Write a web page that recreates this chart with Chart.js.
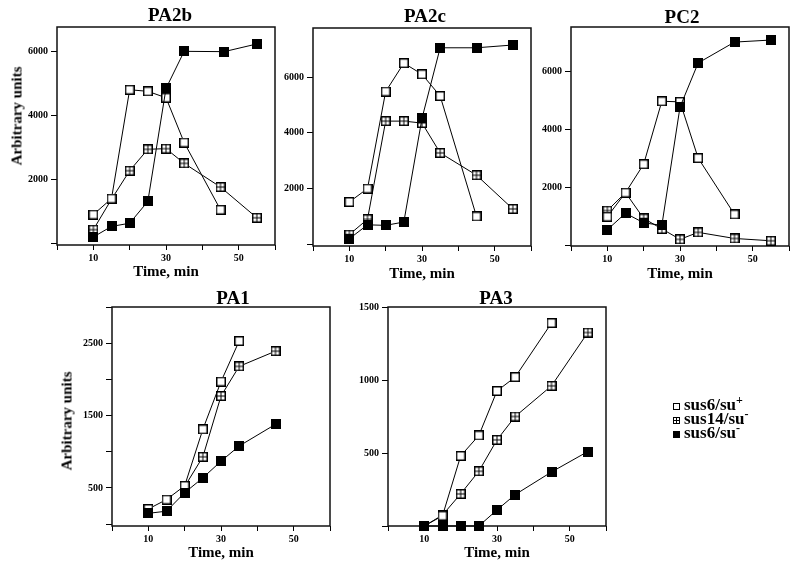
<!DOCTYPE html>
<html><head><meta charset="utf-8">
<script src="https://cdn.jsdelivr.net/npm/chart.js@4"></script>
<style>
body{margin:0;background:#fff;width:800px;height:564px;overflow:hidden;position:relative;font-family:"Liberation Serif","Times New Roman",serif;font-weight:bold;color:#000;}
canvas{position:absolute;left:0;top:0;}
.ttl{position:absolute;font-size:19px;line-height:19px;white-space:nowrap;transform:translateX(-50%);}
.ytl{position:absolute;font-size:15px;line-height:15px;white-space:nowrap;transform:translate(-50%,-50%) rotate(-90deg);}
.legrow{position:absolute;left:684px;font-size:17px;line-height:16px;white-space:nowrap;}
.legrow sup{font-size:12px;line-height:0;vertical-align:6px;}
.mk{position:absolute;width:5px;height:5px;border:1.5px solid #000;background:#fff;}
.mk.h{background:linear-gradient(#000,#000) center/1px 100% no-repeat,linear-gradient(#000,#000) center/100% 1px no-repeat,#fff;}
.mk.f{background:#000;}
</style></head><body>
<canvas id="cPA2b" width="800" height="564"></canvas>
<canvas id="cPA2c" width="800" height="564"></canvas>
<canvas id="cPC2" width="800" height="564"></canvas>
<canvas id="cPA1" width="800" height="564"></canvas>
<canvas id="cPA3" width="800" height="564"></canvas>

<div class="ttl" style="left:170px;top:5px">PA2b</div>
<div class="ttl" style="left:425px;top:6px">PA2c</div>
<div class="ttl" style="left:682px;top:7px">PC2</div>
<div class="ttl" style="left:233px;top:288px">PA1</div>
<div class="ttl" style="left:496px;top:288px">PA3</div>
<div class="ytl" style="left:17px;top:116px">Arbitrary units</div>
<div class="ytl" style="left:67px;top:421px">Arbitrary units</div>

<span class="mk" style="left:673px;top:403px"></span>
<div class="legrow" style="top:397px">sus6/su<sup>+</sup></div>
<span class="mk h" style="left:673px;top:417px"></span>
<div class="legrow" style="top:411px">sus14/su<sup>-</sup></div>
<span class="mk f" style="left:673px;top:431px"></span>
<div class="legrow" style="top:425px">sus6/su<sup>-</sup></div>

<script>
// ---- tick definitions ----
const xTicks = [0, 10, 20, 30, 40, 50, 60];
const xTickLabels = [10, 30, 50];
const yTicks6k = [0, 2000, 4000, 6000];
const yLabels6k = [2000, 4000, 6000];
const pa1YTicks = [0, 500, 1000, 1500, 2000, 2500, 3000];
const pa1YLabels = [500, 1500, 2500];
const pa3YTicks = [0, 500, 1000, 1500];
const pa3YLabels = [500, 1000, 1500];

// ---- time points (min) ----
const timesOpen = [10, 15, 20, 25, 30, 35, 45];
const timesFull = [10, 15, 20, 25, 30, 35, 45, 55];

// ---- PA2b ----
const pa2bOpen = [900, 1400, 4800, 4750, 4550, 3150, 1050];
const pa2bHatch = [430, 1380, 2270, 2940, 2960, 2500, 1760, 800];
const pa2bFilledTimes = [10, 15, 20, 25, 30, 35, 46, 55];
const pa2bFilled = [200, 530, 630, 1310, 4840, 6000, 5990, 6230];

// ---- PA2c ----
const pa2cOpen = [1520, 2000, 5480, 6500, 6100, 5320, 1000];
const pa2cHatch = [350, 900, 4420, 4420, 4350, 3280, 2480, 1270];
const pa2cFilled = [200, 700, 680, 800, 4520, 7050, 7050, 7150];

// ---- PC2 ----
const pc2Open = [980, 1810, 2790, 4960, 4940, 3000, 1060];
const pc2Hatch = [1190, 1810, 920, 560, 200, 440, 230, 150];
const pc2Filled = [530, 1100, 770, 680, 4760, 6280, 7000, 7070];

// ---- PA1 ----
const pa1OpenTimes = [10, 15, 20, 25, 30, 35];
const pa1Open = [210, 340, 530, 1310, 1970, 2530];
const pa1HatchTimes = [20, 25, 30, 35, 45];
const pa1Hatch = [520, 930, 1770, 2180, 2390];
const pa1FilledTimes = [10, 15, 20, 25, 30, 35, 45];
const pa1Filled = [150, 180, 435, 640, 870, 1080, 1380];

// ---- PA3 ----
const pa3Open = [0, 70, 480, 620, 925, 1020, 1390];
const pa3Hatch = [0, 75, 220, 375, 590, 750, 960, 1325];
const pa3Filled = [0, 0, 0, 0, 110, 215, 370, 510];

const seriesNames = ['sus6/su+', 'sus14/su-', 'sus6/su-'];

// ---- marker images ----
function makeMarker(kind) {
  const s = 10;
  const c = document.createElement('canvas');
  c.width = s; c.height = s;
  const g = c.getContext('2d');
  if (kind === 'filled') {
    g.fillStyle = '#000'; g.fillRect(0, 0, s, s);
  } else {
    g.fillStyle = '#fff'; g.fillRect(0, 0, s, s);
    g.strokeStyle = '#000'; g.lineWidth = 1.5;
    g.strokeRect(0.75, 0.75, s - 1.5, s - 1.5);
    if (kind === 'hatch') {
      g.lineWidth = 1;
      g.beginPath();
      g.moveTo(5, 1); g.lineTo(5, 9);
      g.moveTo(1, 5); g.lineTo(9, 5);
      g.stroke();
    }
  }
  return c;
}
const mkOpen = makeMarker('open');
const mkHatch = makeMarker('hatch');
const mkFilled = makeMarker('filled');

Chart.defaults.font.family = "'Liberation Serif','Times New Roman',serif";
Chart.defaults.font.weight = 'bold';
Chart.defaults.color = '#000';

const framePlugin = {
  id: 'frame',
  beforeDatasetsDraw(chart) {
    const {ctx, chartArea: a} = chart;
    ctx.save();
    ctx.strokeStyle = '#111';
    ctx.lineWidth = 1.5;
    ctx.strokeRect(a.left, a.top, a.right - a.left, a.bottom - a.top);
    ctx.restore();
  }
};

function pts(times, vals) { return times.map((t, i) => ({x: t, y: vals[i]})); }

function ds(label, data, marker, order) {
  return {
    label, data, order,
    borderColor: '#000', borderWidth: 1, tension: 0, fill: false,
    pointStyle: marker, pointRadius: 5, clip: false
  };
}

function makePanel(id, area, titleY, yRange, yTicks, yLabels, datasets) {
  const yW = 45;
  const bottomEdge = titleY + 9;
  const xH = bottomEdge - area.b;
  new Chart(document.getElementById(id), {
    type: 'line',
    data: { datasets },
    options: {
      responsive: false, animation: false, events: [],
      layout: { padding: { left: area.l - yW, top: area.t, right: 800 - area.r, bottom: 564 - bottomEdge } },
      plugins: { legend: { display: false }, tooltip: { enabled: false } },
      scales: {
        x: {
          type: 'linear', min: 0, max: 60,
          afterBuildTicks: s => { s.ticks = xTicks.map(v => ({value: v})); },
          ticks: { callback: v => xTickLabels.includes(v) ? String(v) : '', font: {size: 10, weight: 'bold'}, color: '#000', padding: 2, maxRotation: 0, autoSkip: false },
          grid: { drawOnChartArea: false, drawTicks: true, tickLength: 5, color: '#000', lineWidth: 1 },
          border: { display: false },
          title: { display: true, text: 'Time, min', font: {size: 15, weight: 'bold'}, color: '#000', padding: 0 },
          afterFit: s => { s.height = xH; }
        },
        y: {
          type: 'linear', min: yRange[0], max: yRange[1],
          afterBuildTicks: s => { s.ticks = yTicks.map(v => ({value: v})); },
          ticks: { callback: v => yLabels.includes(v) ? String(v) : '', font: {size: 10, weight: 'bold'}, color: '#000', padding: 3, autoSkip: false },
          grid: { drawOnChartArea: false, drawTicks: true, tickLength: 6, color: '#000', lineWidth: 1 },
          border: { display: false },
          afterFit: s => { s.width = yW; }
        }
      }
    },
    plugins: [framePlugin]
  });
}

makePanel('cPA2b', {l: 57, t: 27, r: 275, b: 245}, 272, [-50, 6760], yTicks6k, yLabels6k, [
  ds(seriesNames[0], pts(timesOpen, pa2bOpen), mkOpen, 1),
  ds(seriesNames[1], pts(timesFull, pa2bHatch), mkHatch, 2),
  ds(seriesNames[2], pts(pa2bFilledTimes, pa2bFilled), mkFilled, 0)
]);
makePanel('cPA2c', {l: 313, t: 28, r: 531, b: 246}, 274, [-60, 7760], yTicks6k, yLabels6k, [
  ds(seriesNames[0], pts(timesOpen, pa2cOpen), mkOpen, 1),
  ds(seriesNames[1], pts(timesFull, pa2cHatch), mkHatch, 2),
  ds(seriesNames[2], pts(timesFull, pa2cFilled), mkFilled, 0)
]);
makePanel('cPC2', {l: 571, t: 27, r: 789, b: 246}, 274, [-30, 7520], yTicks6k, yLabels6k, [
  ds(seriesNames[0], pts(timesOpen, pc2Open), mkOpen, 1),
  ds(seriesNames[1], pts(timesFull, pc2Hatch), mkHatch, 2),
  ds(seriesNames[2], pts(timesFull, pc2Filled), mkFilled, 0)
]);
makePanel('cPA1', {l: 112, t: 307, r: 330, b: 526}, 553, [-25, 3000], pa1YTicks, pa1YLabels, [
  ds(seriesNames[0], pts(pa1OpenTimes, pa1Open), mkOpen, 1),
  ds(seriesNames[1], pts(pa1HatchTimes, pa1Hatch), mkHatch, 2),
  ds(seriesNames[2], pts(pa1FilledTimes, pa1Filled), mkFilled, 0)
]);
makePanel('cPA3', {l: 388, t: 307, r: 606, b: 526}, 553, [0, 1500], pa3YTicks, pa3YLabels, [
  ds(seriesNames[0], pts(timesOpen, pa3Open), mkOpen, 1),
  ds(seriesNames[1], pts(timesFull, pa3Hatch), mkHatch, 2),
  ds(seriesNames[2], pts(timesFull, pa3Filled), mkFilled, 0)
]);
</script>
</body></html>
